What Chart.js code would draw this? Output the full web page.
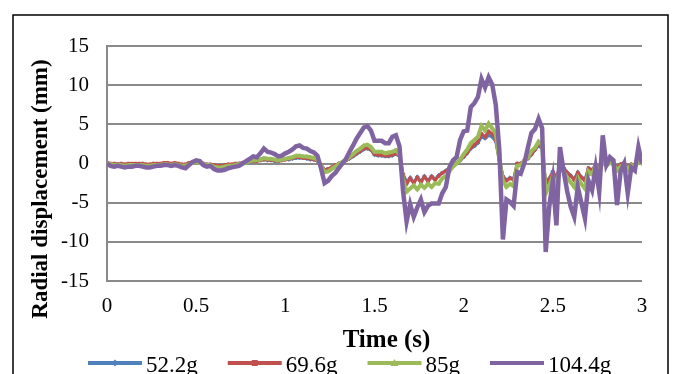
<!DOCTYPE html>
<html><head><meta charset="utf-8">
<script src="https://cdn.jsdelivr.net/npm/chart.js@4/dist/chart.umd.min.js"></script>
<style>html,body{margin:0;padding:0;background:#fff;overflow:hidden}canvas{display:block}</style>
</head><body>
<canvas id="c" width="673" height="374"></canvas>
<script>
const times = [
0,0.02,0.04,0.06,0.08,0.1,0.12,0.14,0.16,0.18,
0.2,0.22,0.24,0.26,0.28,0.3,0.32,0.34,0.36,0.38,
0.4,0.42,0.44,0.46,0.48,0.5,0.52,0.54,0.56,0.58,
0.6,0.62,0.64,0.66,0.68,0.7,0.72,0.74,0.76,0.78,
0.8,0.82,0.84,0.86,0.88,0.9,0.92,0.94,0.96,0.98,
1,1.02,1.04,1.06,1.08,1.1,1.12,1.14,1.16,1.18,
1.2,1.22,1.24,1.26,1.28,1.3,1.32,1.34,1.36,1.38,
1.4,1.42,1.44,1.46,1.48,1.5,1.52,1.54,1.56,1.58,
1.6,1.62,1.64,1.66,1.68,1.7,1.72,1.74,1.76,1.78,
1.8,1.82,1.84,1.86,1.88,1.9,1.92,1.94,1.96,1.98,
2,2.02,2.04,2.06,2.08,2.1,2.12,2.14,2.16,2.18,
2.2,2.22,2.24,2.26,2.28,2.3,2.32,2.34,2.36,2.38,
2.4,2.42,2.44,2.46,2.48,2.5,2.52,2.54,2.56,2.58,
2.6,2.62,2.64,2.66,2.68,2.7,2.72,2.74,2.76,2.78,
2.8,2.82,2.84,2.86,2.88,2.9,2.92,2.94,2.96,2.98,
3];

const seriesNames = ['52.2g','69.6g','85g','104.4g'];

const s52 = [
0.0,-0.1,-0.1,-0.1,-0.1,-0.2,-0.1,-0.1,-0.1,-0.1,
-0.1,-0.2,-0.2,-0.1,-0.1,-0.1,0.0,0.0,-0.1,0.0,
-0.1,-0.2,-0.2,0.0,0.1,0.2,0.1,-0.1,-0.2,-0.2,
-0.3,-0.4,-0.4,-0.3,-0.2,-0.2,-0.1,0.0,0.0,0.1,
0.2,0.3,0.3,0.4,0.5,0.4,0.4,0.3,0.3,0.4,
0.5,0.5,0.6,0.7,0.7,0.7,0.6,0.5,0.5,0.3,
-0.2,-0.8,-0.7,-0.5,-0.3,0.0,0.2,0.4,0.6,0.9,
1.2,1.5,1.8,1.9,1.7,1.1,1.0,1.0,0.9,0.9,
1.0,1.2,0.9,-1.3,-2.4,-1.8,-2.4,-1.7,-2.3,-1.6,
-2.2,-1.6,-2.0,-1.5,-1.2,-0.9,-0.6,-0.2,0.0,0.4,
0.8,1.3,1.9,2.2,2.6,3.4,3.2,3.6,3.4,2.8,
0.4,-1.6,-2.1,-1.8,-2.0,0.0,0.0,0.3,0.6,1.1,
1.7,2.3,1.9,-2.5,-1.9,-1.0,-1.8,-0.3,-0.5,-1.1,
-1.5,-2.0,-1.1,-1.7,-2.1,-0.6,-0.8,-0.2,-0.5,0.2,
-0.2,0.1,0.0,-0.4,-0.1,0.0,-0.4,-0.1,-0.2,0.2,
0.0];

const s69 = [
0.1,0.0,0.0,-0.1,0.0,-0.1,0.0,0.0,0.0,0.0,
0.0,-0.1,-0.1,0.0,0.0,0.0,0.1,0.1,0.0,0.1,
0.0,-0.1,-0.1,0.1,0.2,0.3,0.2,0.0,-0.1,-0.1,
-0.2,-0.3,-0.3,-0.2,-0.1,-0.1,0.0,0.0,0.1,0.2,
0.3,0.3,0.3,0.4,0.5,0.5,0.4,0.4,0.3,0.4,
0.5,0.6,0.7,0.8,0.8,0.7,0.7,0.6,0.5,0.4,
-0.2,-0.8,-0.7,-0.5,-0.2,0.0,0.2,0.4,0.7,1.0,
1.3,1.6,1.9,2.0,1.8,1.2,1.1,1.1,1.0,1.0,
1.1,1.3,1.0,-1.4,-2.6,-1.9,-2.5,-1.8,-2.4,-1.7,
-2.3,-1.7,-2.1,-1.6,-1.2,-1.0,-0.6,-0.2,0.1,0.4,
0.9,1.4,2.0,2.4,2.8,3.8,3.4,4.1,3.8,3.0,
0.5,-1.7,-2.2,-1.9,-2.1,0.0,0.0,0.4,0.7,1.2,
1.8,2.4,2.0,-2.7,-2.0,-1.1,-1.9,-0.3,-0.6,-1.2,
-1.6,-2.1,-1.2,-1.8,-2.2,-0.6,-0.9,-0.2,-0.5,0.3,
-0.2,0.2,0.0,-0.5,-0.1,0.1,-0.4,-0.1,-0.2,0.3,
0.1];

const s85 = [
0.0,-0.1,-0.2,-0.2,-0.2,-0.3,-0.2,-0.2,-0.2,-0.2,
-0.2,-0.3,-0.3,-0.2,-0.2,-0.2,-0.1,-0.1,-0.2,-0.1,
-0.2,-0.3,-0.3,-0.1,0.1,0.2,0.1,-0.1,-0.2,-0.2,
-0.4,-0.5,-0.5,-0.4,-0.3,-0.3,-0.2,-0.1,0.0,0.1,
0.3,0.4,0.4,0.5,0.7,0.6,0.6,0.5,0.4,0.5,
0.6,0.7,0.8,1.0,1.0,0.9,0.9,0.8,0.7,0.5,
-0.3,-1.1,-1.0,-0.7,-0.4,-0.1,0.2,0.5,0.8,1.2,
1.6,1.9,2.3,2.4,2.1,1.5,1.5,1.5,1.3,1.4,
1.5,1.7,1.2,-2.0,-3.6,-3.2,-2.8,-3.3,-2.7,-3.1,
-2.6,-3.0,-2.5,-2.6,-1.9,-1.6,-1.0,-0.4,0.0,0.5,
1.2,1.8,2.6,3.0,3.4,4.8,4.2,5.1,4.5,3.8,
0.5,-2.2,-3.0,-2.6,-2.9,-0.3,-0.2,0.3,0.8,1.6,
2.0,2.8,2.4,-3.8,-2.8,-1.6,-2.8,-0.6,-1.0,-1.8,
-2.4,-3.0,-1.8,-2.6,-3.2,-1.0,-1.4,-0.3,-0.9,0.2,
-0.3,0.1,-0.1,-0.9,-0.4,-0.1,-0.8,-0.2,-0.4,0.3,
0.0];

const s104 = [
0.0,-0.3,-0.4,-0.3,-0.4,-0.5,-0.4,-0.4,-0.3,-0.3,
-0.4,-0.5,-0.5,-0.4,-0.3,-0.3,-0.2,-0.2,-0.3,-0.2,
-0.3,-0.5,-0.6,-0.2,0.2,0.4,0.3,-0.2,-0.4,-0.3,
-0.7,-0.9,-0.9,-0.8,-0.6,-0.5,-0.4,-0.3,0.0,0.3,
0.6,0.9,0.8,1.3,1.9,1.5,1.4,1.2,0.9,1.0,
1.3,1.5,1.8,2.2,2.3,2.0,1.9,1.6,1.4,1.0,
-0.6,-2.5,-2.2,-1.6,-1.2,-0.6,0.0,0.6,1.5,2.3,
3.2,3.9,4.6,4.8,4.2,2.9,2.9,2.9,2.6,2.6,
3.4,3.6,2.2,-3.5,-7.4,-5.2,-6.8,-5.6,-4.6,-6.2,
-5.4,-5.1,-5.1,-5.1,-3.8,-3.0,-0.5,0.4,0.8,3.0,
4.1,4.2,7.2,7.7,8.5,10.8,9.7,11.0,10.1,7.5,
1.7,-9.7,-4.6,-4.9,-5.4,-1.1,-1.3,0.0,2.0,3.9,
4.4,5.7,4.5,-11.3,-5.5,-2.2,-7.9,2.1,-0.9,-3.5,
-5.5,-6.8,-3.0,-5.0,-7.0,-2.2,-3.4,-0.5,-3.6,3.6,
-0.2,0.8,0.4,-5.3,-1.0,0.0,-3.8,-0.5,-0.9,2.1,
0.0];

const xTicks = [0,0.5,1,1.5,2,2.5,3];
const xTickLabels = ['0','0.5','1','1.5','2','2.5','3'];
const yTicks = [-15,-10,-5,0,5,10,15];
const yTickLabels = ['-15','-10','-5','0','5','10','15'];
const xTitle = 'Time (s)';
const yTitle = 'Radial displacement (mm)';

const serif = '"Liberation Serif", "Times New Roman", serif';
const colors = ['#4f81bd','#c0504d','#9bbb59','#8064a2'];
const widths = [3, 3, 4, 4.5];
const markers = ['rectRot','rect','triangle',false];
const values = [s52, s69, s85, s104];

const datasets = values.map((arr, i) => ({
  label: seriesNames[i],
  data: times.map((t, k) => ({x: t, y: arr[k]})),
  borderColor: colors[i],
  backgroundColor: colors[i],
  borderWidth: widths[i],
  pointStyle: markers[i] || 'circle',
  pointRadius: markers[i] ? 1.8 : 0,
  pointBorderWidth: 1,
  pointBackgroundColor: colors[i],
  pointBorderColor: colors[i],
  tension: 0,
  order: 4 - i
}));

function drawMarker(ctx, style, x, y, color) {
  ctx.save();
  ctx.fillStyle = color; ctx.strokeStyle = color; ctx.lineWidth = 1;
  ctx.beginPath();
  if (style === 'rectRot') {
    ctx.moveTo(x, y - 3.5); ctx.lineTo(x + 3.5, y); ctx.lineTo(x, y + 3.5); ctx.lineTo(x - 3.5, y);
  } else if (style === 'rect') {
    ctx.rect(x - 3, y - 3, 6, 6);
  } else if (style === 'triangle') {
    ctx.moveTo(x, y - 4); ctx.lineTo(x + 4, y + 3); ctx.lineTo(x - 4, y + 3);
  }
  ctx.closePath(); ctx.fill();
  ctx.restore();
}

const decor = {
  id: 'decor',
  beforeDraw(chart) {
    const ctx = chart.ctx;
    ctx.save(); ctx.fillStyle = '#fff'; ctx.fillRect(0, 0, chart.width, chart.height); ctx.restore();
  },
  afterDraw(chart) {
    const ctx = chart.ctx;
    const area = chart.chartArea;
    ctx.save();
    ctx.strokeStyle = '#000'; ctx.lineWidth = 1.5;
    ctx.strokeRect(13, 15, 655, 420);
    ctx.fillStyle = '#000';
    // y title
    ctx.save();
    ctx.font = 'bold 23px ' + serif;
    ctx.translate(41, area.top + 143);
    ctx.rotate(-Math.PI / 2);
    ctx.textAlign = 'center'; ctx.textBaseline = 'middle';
    ctx.fillText(yTitle, 0, 0);
    ctx.restore();
    // x title
    ctx.font = 'bold 25px ' + serif;
    ctx.textAlign = 'center'; ctx.textBaseline = 'middle';
    ctx.fillText(xTitle, (area.left + area.right) / 2 + 12, area.bottom + 60);
    // legend
    ctx.font = '23px ' + serif;
    ctx.textAlign = 'left'; ctx.textBaseline = 'alphabetic';
    let x = 88;
    const ly = area.bottom + 82;
    chart.data.datasets.forEach((ds, i) => {
      ctx.strokeStyle = ds.borderColor; ctx.lineWidth = 4;
      ctx.beginPath(); ctx.moveTo(x, ly); ctx.lineTo(x + 54, ly); ctx.stroke();
      if (markers[i]) drawMarker(ctx, markers[i], x + 27, ly, ds.borderColor);
      ctx.fillStyle = '#000';
      ctx.fillText(ds.label, x + 58, ly + 9);
      x += 58 + ctx.measureText(ds.label).width + 30;
    });
    ctx.restore();
  }
};

new Chart(document.getElementById('c'), {
  type: 'line',
  data: { datasets },
  options: {
    responsive: false,
    devicePixelRatio: 1,
    animation: false,
    layout: { padding: { left: 0, top: 46, right: 31, bottom: 0 } },
    plugins: { legend: { display: false }, tooltip: { enabled: false } },
    scales: {
      x: {
        type: 'linear', min: 0, max: 3,
        afterBuildTicks: s => { s.ticks = xTicks.map(v => ({ value: v })); },
        afterFit: s => { s.height = 93; },
        ticks: { font: { family: serif, size: 21 }, color: '#000', padding: 13, maxRotation: 0, autoSkip: false,
                 callback: (v, i) => xTickLabels[i] },
        grid: { display: false, drawTicks: false },
        border: { display: false }
      },
      y: {
        min: -15, max: 15,
        afterBuildTicks: s => { s.ticks = yTicks.map(v => ({ value: v })); },
        afterFit: s => { s.width = 107; },
        ticks: { font: { family: serif, size: 21 }, color: '#000', padding: 18,
                 callback: (v, i) => yTickLabels[i] },
        grid: { color: '#8a8a8a', lineWidth: 2, drawTicks: false },
        border: { display: true, color: '#8a8a8a', width: 2 }
      }
    }
  },
  plugins: [decor]
});
</script>
</body></html>
